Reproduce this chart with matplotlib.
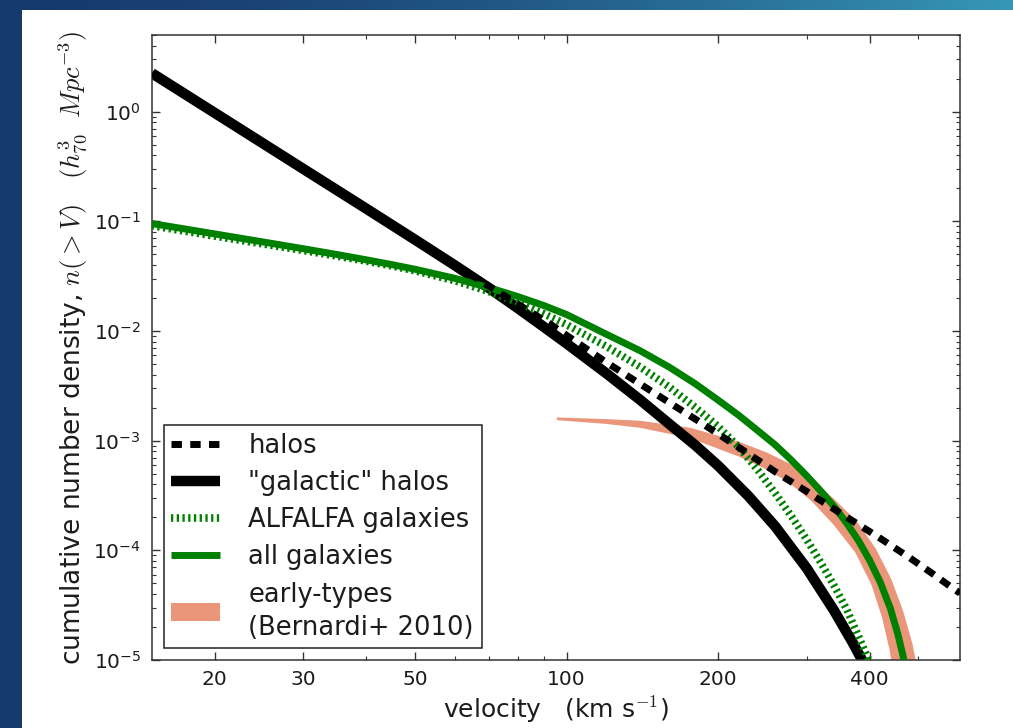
import numpy as np
import matplotlib
matplotlib.use("Agg")
import matplotlib.pyplot as plt
import matplotlib.patches as mpatches
from matplotlib.lines import Line2D
from matplotlib.ticker import FixedLocator, LogLocator, NullFormatter, FuncFormatter

plt.rcParams['font.family'] = ['DejaVu Sans']
plt.rcParams['mathtext.fontset'] = 'cm'

# velocity (km/s) and log10 of cumulative number density n(>V)
v_halos = [15, 20, 30, 40, 56, 70, 93, 120, 138, 160, 184, 221, 260, 300,
           350, 416, 480, 534, 588, 605]
logn_halos = [0.35, -0.012, -0.523, -0.885, -1.309, -1.59, -1.941, -2.287,
              -2.465, -2.653, -2.830, -3.068, -3.285, -3.463, -3.661, -3.878,
              -4.066, -4.214, -4.352, -4.39]

v_gal_halos = [15, 20, 25, 30, 40, 50, 60, 70, 80, 90, 100, 120, 140, 160,
               180, 200, 230, 260, 300, 340, 370, 390, 400]
logn_gal_halos = [0.35, -0.012, -0.293, -0.523, -0.885, -1.168, -1.402, -1.606,
                  -1.792, -1.961, -2.114, -2.387, -2.628, -2.848, -3.04, -3.228,
                  -3.507, -3.784, -4.163, -4.549, -4.839, -5.034, -5.131]

v_alfalfa = [15, 20, 25, 30, 35, 40, 45, 50, 60, 70, 80, 90, 100, 120, 140,
             160, 180, 200, 220, 240, 260, 280, 300, 320, 340, 360, 380, 400, 410]
logn_alfalfa = [-1.04, -1.135, -1.207, -1.266, -1.317, -1.363, -1.407, -1.451,
                -1.542, -1.639, -1.740, -1.842, -1.943, -2.141, -2.328, -2.511,
                -2.695, -2.87, -3.06, -3.27, -3.483, -3.692, -3.902, -4.112,
                -4.322, -4.535, -4.78, -5.02, -5.13]

v_allgal = [15, 20, 25, 30, 35, 40, 45, 50, 60, 70, 80, 90, 100, 120, 140, 160,
            180, 200, 220, 240, 260, 280, 300, 320, 340, 360, 380, 400, 420,
            440, 455, 465, 475]
logn_allgal = [-1.02, -1.115, -1.189, -1.250, -1.303, -1.351, -1.395, -1.437,
               -1.520, -1.604, -1.686, -1.767, -1.85, -2.03, -2.18, -2.33,
               -2.48, -2.63, -2.77, -2.91, -3.04, -3.18, -3.32, -3.46, -3.60,
               -3.75, -3.91, -4.09, -4.29, -4.53, -4.76, -4.94, -5.14]

# early-type band (Bernardi+ 2010): upper and lower edges
v_et_hi = [96, 120, 140, 176, 220, 250, 277, 307, 340, 376, 410, 440, 465, 485, 497]
logn_et_hi = [-2.796, -2.811, -2.826, -2.890, -3.018, -3.117, -3.216, -3.364,
              -3.542, -3.740, -3.987, -4.263, -4.560, -4.856, -5.103]
v_et_lo = [96, 120, 140, 176, 220, 250, 277, 307, 340, 376, 405, 425, 440, 447]
logn_et_lo = [-2.806, -2.840, -2.875, -2.969, -3.137, -3.256, -3.374, -3.542,
              -3.760, -4.016, -4.313, -4.609, -4.906, -5.103]

xticks = [20, 30, 50, 100, 200, 400]
xminor = [20, 30, 40, 50, 60, 70, 80, 90, 100, 200, 300, 400, 500]

navy = '#173a6c'
teal = '#3798b5'
green = '#008000'
salmon = '#e9967a'
ink = '#1c1c1c'

fig = plt.figure(figsize=(10.13, 7.28), dpi=100)
fig.patch.set_facecolor(navy)

# slide frame: gradient bar on top, white panel for the plot
bar = fig.add_axes([0, 718 / 728, 1, 10 / 728])
t = np.linspace(0, 1, 512) ** 1.6
c0 = np.array(matplotlib.colors.to_rgb(navy))
c1 = np.array(matplotlib.colors.to_rgb(teal))
grad = c0[None, :] * (1 - t[:, None]) + c1[None, :] * t[:, None]
bar.imshow(grad[None, :, :], aspect='auto', extent=[0, 1, 0, 1])
bar.set_axis_off()
fig.add_artist(mpatches.Rectangle((22 / 1013, 0), 1 - 22 / 1013, 718 / 728,
                                  transform=fig.transFigure, facecolor='white',
                                  edgecolor='none', zorder=0))

ax = fig.add_axes([152 / 1013, 68 / 728, 808 / 1013, 625 / 728])
ax.set_xscale('log')
ax.set_yscale('log')

poly_v = list(v_et_hi) + list(v_et_lo[::-1])
poly_n = list(10 ** np.array(logn_et_hi)) + list(10 ** np.array(logn_et_lo[::-1]))
ax.fill(poly_v, poly_n, color=salmon, lw=1.2, zorder=1)
ax.plot(v_gal_halos, 10 ** np.array(logn_gal_halos), color='black', lw=7.5,
        solid_capstyle='butt', solid_joinstyle='round', zorder=2)
ax.plot(v_alfalfa, 10 ** np.array(logn_alfalfa), color=green, lw=5.5,
        linestyle=(0, (0.3, 0.45)), zorder=3)
ax.plot(v_allgal, 10 ** np.array(logn_allgal), color=green, lw=5,
        solid_capstyle='butt', solid_joinstyle='round', zorder=4)
ax.plot(v_halos, 10 ** np.array(logn_halos), color='black', lw=5,
        linestyle=(0, (1.5, 1.2)), zorder=5)

ax.set_xlim(15, 605)
ax.set_ylim(1e-5, 5)

ax.xaxis.set_major_locator(FixedLocator(xticks))
ax.xaxis.set_minor_locator(FixedLocator(xminor))
ax.xaxis.set_major_formatter(FuncFormatter(lambda x, p: '%d' % x))
ax.xaxis.set_minor_formatter(NullFormatter())
ax.yaxis.set_major_locator(LogLocator(base=10, numticks=20))
ax.yaxis.set_minor_locator(LogLocator(base=10, subs=np.arange(2, 10), numticks=20))
ax.yaxis.set_major_formatter(FuncFormatter(
    lambda y, p: r'$\mathregular{10^{%d}}$' % int(round(np.log10(y)))))
ax.yaxis.set_minor_formatter(NullFormatter())

ax.tick_params(which='both', direction='in', top=True, right=True,
               color='#333333', labelcolor=ink, labelsize=14.5)
ax.tick_params(which='major', length=6, width=1)
ax.tick_params(which='minor', length=3, width=0.8)
ax.tick_params(axis='x', which='major', pad=7)
ax.tick_params(axis='y', which='major', pad=8)
for s in ax.spines.values():
    s.set_color('#333333')
    s.set_linewidth(1.1)

ax.set_xlabel(r'velocity   (km s$^{-1}$)', fontsize=18, color=ink, labelpad=4)
ax.set_ylabel(r'cumulative number density, $n(>V)$   $(h_{70}^3\ \ Mpc^{-3})$',
              fontsize=19, color=ink)
ax.yaxis.set_label_coords(-0.077, 0.5)

handles = [
    Line2D([], [], color='black', lw=5, linestyle=(0, (1.5, 1.2))),
    Line2D([], [], color='black', lw=7.5, solid_capstyle='butt'),
    Line2D([], [], color=green, lw=5.5, linestyle=(0, (0.3, 0.45))),
    Line2D([], [], color=green, lw=5, solid_capstyle='butt'),
    mpatches.Patch(facecolor=salmon, edgecolor='none'),
]
labels = ['halos', '"galactic" halos', 'ALFALFA galaxies', 'all galaxies',
          'early-types\n(Bernardi+ 2010)']
leg = ax.legend(handles, labels, loc='lower left', fontsize=18.5, fancybox=False,
                framealpha=1, edgecolor='#222222', labelcolor=ink,
                handlelength=1.9, borderpad=0.3, labelspacing=0.44,
                handletextpad=1.1, borderaxespad=0.45)
leg.get_frame().set_linewidth(1.1)
for txt in leg.get_texts():
    txt.set_linespacing(1.35)

fig.savefig('out.png', dpi=100, facecolor=fig.get_facecolor())
